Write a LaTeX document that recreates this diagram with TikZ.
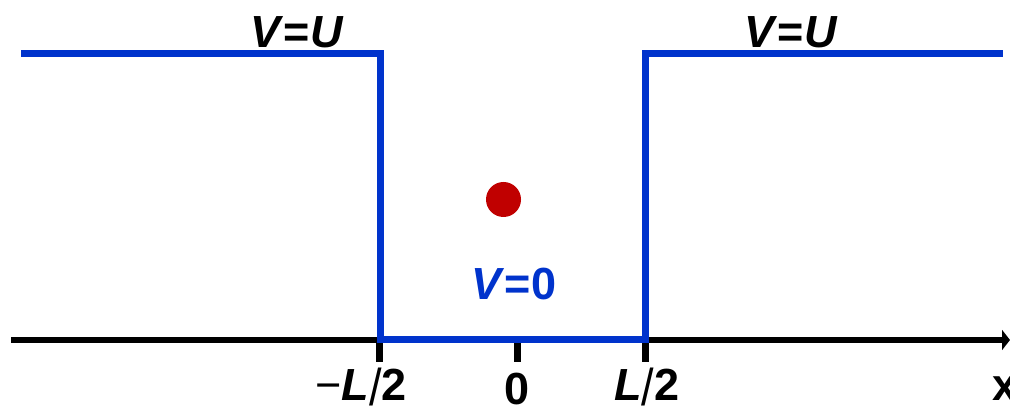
\documentclass[tikz,border=0pt]{standalone}
\usepackage{fontspec}
\usepackage{graphicx}
\setmainfont{Liberation Sans}
\usetikzlibrary{arrows.meta}
\definecolor{wellblue}{RGB}{0,51,204}
\definecolor{dotred}{RGB}{192,0,0}
\tikzstyle{arrow} = [-{Triangle[length=8pt,width=20pt]}]
\tikzstyle{axis} = [black, line width=6pt]
\tikzstyle{tick} = [black, line width=7pt]
\tikzstyle{potential} = [wellblue, line width=7pt]
\tikzstyle{lbl} = [inner sep=0pt, anchor=base, font=\fontsize{45}{45}\selectfont\bfseries]
\newcommand{\thinslash}{\raisebox{-0.1em}{\scalebox{1}[1.15]{\mdseries/}}}

\begin{document}
\begin{tikzpicture}[x=1pt,y=-1pt]
\useasboundingbox (0,0) rectangle (1010,411);

% Coordinates
\coordinate (axisstart) at (11,340);
\coordinate (axisend) at (1010,340);
\coordinate (farleft) at (21,54);
\coordinate (leftwalltop) at (380,54);
\coordinate (leftwallbot) at (380,340);
\coordinate (rightwallbot) at (645,340);
\coordinate (rightwalltop) at (645,54);
\coordinate (farright) at (1003,54);
\coordinate (tickminus) at (379,343);
\coordinate (tickzero) at (517,343);
\coordinate (tickplus) at (645,343);

% Nodes
\node (particle) [circle, fill=dotred, minimum size=35pt, inner sep=0pt] at (503.5,199.5) {};
\node (vuleft) [lbl] at (297,48) {\textit{V}=\textit{U}};
\node (vuright) [lbl] at (791,48) {\textit{V}=\textit{U}};
\node (vzero) [lbl, wellblue] at (514,300) {\textit{V}=0};
\node (lblminus) [lbl] at (361,401) {{\mdseries −}\textit{L}\thinslash2};
\node (lblzero) [lbl] at (517,405) {0};
\node (lblplus) [lbl] at (647,401) {\textit{L}\thinslash2};
\node (lblx) [lbl, anchor=base west] at (992,401) {x};

% Axis and ticks
\draw [axis, arrow] (axisstart) -- (axisend);
\draw [tick] (tickminus) -- ++(0,19);
\draw [tick] (tickzero) -- ++(0,19);
\draw [tick] (tickplus) -- ++(0,19);

% Potential
\draw [potential] (farleft) -- (leftwalltop) -- (leftwallbot) -- (rightwallbot) -- (rightwalltop) -- (farright);

\end{tikzpicture}
\end{document}
